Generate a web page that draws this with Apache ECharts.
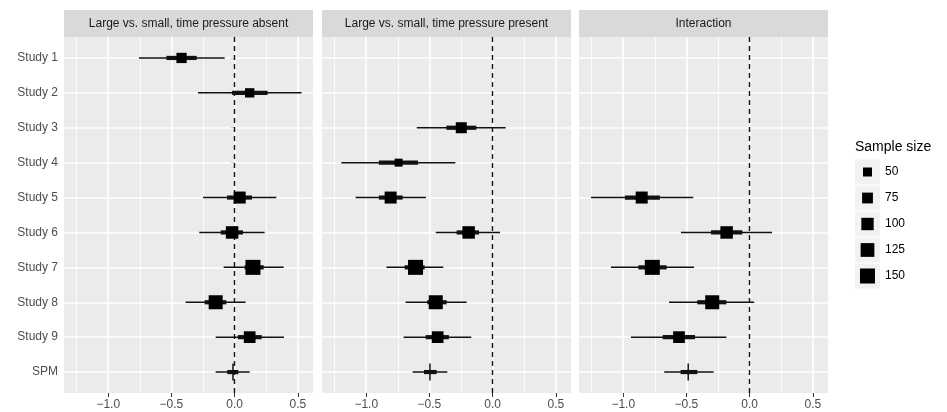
<!doctype html>
<html lang="en">
<head>
<meta charset="UTF-8">
<title>Forest plot</title>
<style>
  html, body { margin: 0; padding: 0; background: #fff; }
  #chart { width: 947px; height: 412px; }
</style>
</head>
<body>
<div id="chart"></div>
<script src="https://cdn.jsdelivr.net/npm/echarts@6/dist/echarts.min.js"></script>
<script>
// rows, top to bottom
var studies = ['Study 1', 'Study 2', 'Study 3', 'Study 4', 'Study 5', 'Study 6', 'Study 7', 'Study 8', 'Study 9', 'SPM'];
var sampleSize = [67, 54, 78, 38, 94, 102, 150, 130, 89, null];
var panelTitles = ['Large vs. small, time pressure absent', 'Large vs. small, time pressure present', 'Interaction'];

// estimate, outer interval (lo, hi), inner interval (lo, hi); null = not in panel
var estAbsent   = [-0.42, 0.119, null, null, 0.04, -0.02, 0.145, -0.15, 0.119, -0.013];
var outLoAbsent = [-0.757, -0.29, null, null, -0.25, -0.28, -0.087, -0.388, -0.15, -0.15];
var outHiAbsent = [-0.079, 0.53, null, null, 0.33, 0.237, 0.388, 0.087, 0.39, 0.119];
var inLoAbsent  = [-0.54, -0.02, null, null, -0.06, -0.11, 0.079, -0.237, 0.026, -0.058];
var inHiAbsent  = [-0.30, 0.26, null, null, 0.137, 0.066, 0.23, -0.066, 0.214, 0.029];

var estPresent   = [null, null, -0.248, -0.744, -0.807, -0.19, -0.61, -0.45, -0.435, -0.496];
var outLoPresent = [null, null, -0.60, -1.197, -1.084, -0.45, -0.84, -0.688, -0.704, -0.633];
var outHiPresent = [null, null, 0.103, -0.295, -0.527, 0.058, -0.39, -0.206, -0.169, -0.358];
var inLoPresent  = [null, null, -0.366, -0.90, -0.90, -0.285, -0.696, -0.517, -0.53, -0.543];
var inHiPresent  = [null, null, -0.129, -0.59, -0.712, -0.108, -0.538, -0.364, -0.346, -0.443];

var estInter   = [null, null, null, null, -0.854, -0.182, -0.77, -0.296, -0.559, -0.486];
var outLoInter = [null, null, null, null, -1.255, -0.543, -1.097, -0.638, -0.939, -0.676];
var outHiInter = [null, null, null, null, -0.446, 0.177, -0.44, 0.036, -0.184, -0.285];
var inLoInter  = [null, null, null, null, -0.987, -0.306, -0.88, -0.414, -0.688, -0.546];
var inHiInter  = [null, null, null, null, -0.71, -0.058, -0.657, -0.184, -0.432, -0.414];

var xTicks = [-1.0, -0.5, 0.0, 0.5];
var xMinor = [-1.25, -0.75, -0.25, 0.25];
var legendSizes = [50, 75, 100, 125, 150];

var panels = [
  [estAbsent, outLoAbsent, outHiAbsent, inLoAbsent, inHiAbsent],
  [estPresent, outLoPresent, outHiPresent, inLoPresent, inHiPresent],
  [estInter, outLoInter, outHiInter, inLoInter, inHiInter]
];

// square side in px from sample size (area scale)
function sqSide(n) { return Math.sqrt(9 + 1.44 * n); }

var FONT = '"Liberation Sans", Arial, sans-serif';
var gridLefts = [64, 322, 579];
var gridW = 249;
var gridTop = 37, gridBottom = 19;

function renderForest(params, api) {
  var y = api.value(0);
  var c = api.coord([api.value(1), y]);
  var ol = api.coord([api.value(2), y]);
  var oh = api.coord([api.value(3), y]);
  var il = api.coord([api.value(4), y]);
  var ih = api.coord([api.value(5), y]);
  var n = api.value(6);
  var kids = [
    { type: 'line', shape: { x1: ol[0], y1: ol[1], x2: oh[0], y2: oh[1] }, style: { stroke: '#111', lineWidth: 1.5 } },
    { type: 'line', shape: { x1: il[0], y1: il[1], x2: ih[0], y2: ih[1] }, style: { stroke: '#111', lineWidth: 4.2 } }
  ];
  if (!(n > 0)) {
    kids.push({ type: 'line', shape: { x1: c[0], y1: c[1] - 8.5, x2: c[0], y2: c[1] + 8.5 }, style: { stroke: '#111', lineWidth: 1.5 } });
  } else {
    var s = sqSide(n);
    kids.push({ type: 'rect', shape: { x: c[0] - s / 2, y: c[1] - s / 2, width: s, height: s }, style: { fill: '#000' } });
  }
  return { type: 'group', children: kids };
}

var grids = [], xAxes = [], yAxes = [], series = [], graphics = [];

panels.forEach(function (p, k) {
  grids.push({ left: gridLefts[k], width: gridW, top: gridTop, bottom: gridBottom, show: true, backgroundColor: '#EBEBEB', borderWidth: 0 });
  xAxes.push({
    type: 'value', gridIndex: k, min: -1.35, max: 0.62,
    axisLine: { show: false },
    axisTick: { show: true, length: 4, customValues: xTicks, lineStyle: { color: '#333', width: 1 } },
    axisLabel: { customValues: xTicks, margin: 6, color: '#4D4D4D', fontSize: 12, fontFamily: FONT,
      formatter: function (v) { return (v < 0 ? '\u2212' : '') + Math.abs(v).toFixed(1); } },
    splitLine: { show: false }
  });
  yAxes.push({
    type: 'value', gridIndex: k, min: 0.4, max: 10.6, inverse: true,
    axisLine: { show: false },
    axisTick: { show: k === 0, length: 4, customValues: [1, 2, 3, 4, 5, 6, 7, 8, 9, 10], lineStyle: { color: '#333', width: 1 } },
    axisLabel: { show: k === 0, customValues: [1, 2, 3, 4, 5, 6, 7, 8, 9, 10], margin: 6, color: '#4D4D4D', fontSize: 12,
      fontFamily: FONT,
      formatter: function (v) { return studies[Math.round(v) - 1]; } },
    splitLine: { show: false }
  });

  // background grid lines
  var gl = [];
  xMinor.forEach(function (v) { gl.push({ xAxis: v, lineStyle: { color: '#fff', width: 0.8, type: 'solid' } }); });
  xTicks.forEach(function (v) { gl.push({ xAxis: v, lineStyle: { color: '#fff', width: 1.6, type: 'solid' } }); });
  studies.forEach(function (s, i) { gl.push({ yAxis: i + 1, lineStyle: { color: '#fff', width: 1.6, type: 'solid' } }); });
  series.push({
    type: 'line', xAxisIndex: k, yAxisIndex: k, data: [], z: 1, silent: true,
    markLine: { z: 1, silent: true, symbol: ['none', 'none'], label: { show: false }, data: gl }
  });
  // reference line at zero
  series.push({
    type: 'line', xAxisIndex: k, yAxisIndex: k, data: [], z: 2, silent: true,
    markLine: { z: 2, silent: true, symbol: ['none', 'none'], label: { show: false },
      data: [{ xAxis: 0, lineStyle: { color: '#111', width: 1.4, type: [5, 4] } }] }
  });

  var rows = [];
  for (var i = 0; i < studies.length; i++) {
    if (p[0][i] == null) continue;
    rows.push([i + 1, p[0][i], p[1][i], p[2][i], p[3][i], p[4][i], sampleSize[i] == null ? 0 : sampleSize[i]]);
  }
  series.push({
    type: 'custom', xAxisIndex: k, yAxisIndex: k, z: 10, data: rows,
    renderItem: renderForest, encode: { x: [1, 2, 3, 4, 5], y: 0 }
  });

  // facet strip
  graphics.push({ type: 'rect', x: gridLefts[k], y: 10, shape: { width: gridW, height: 27 }, style: { fill: '#D9D9D9' }, silent: true });
  graphics.push({ type: 'text', x: gridLefts[k] + gridW / 2, y: 23.5, silent: true,
    style: { text: panelTitles[k], align: 'center', verticalAlign: 'middle', fill: '#1A1A1A', font: '12px ' + FONT } });
});

// size legend
graphics.push({ type: 'text', x: 855, y: 147, style: { text: 'Sample size', verticalAlign: 'middle', fill: '#000', font: '14px ' + FONT } });
legendSizes.forEach(function (n, i) {
  var yc = 172 + i * 26;
  var s = sqSide(n);
  graphics.push({ type: 'rect', x: 855, y: yc - 12.5, shape: { width: 25, height: 25 }, style: { fill: '#F2F2F2' } });
  graphics.push({ type: 'rect', x: 867.5 - s / 2, y: yc - s / 2, shape: { width: s, height: s }, style: { fill: '#000' } });
  graphics.push({ type: 'text', x: 885, y: yc, style: { text: String(n), verticalAlign: 'middle', fill: '#000', font: '12px ' + FONT } });
});

var chart = echarts.init(document.getElementById('chart'));
chart.setOption({
  animation: false,
  backgroundColor: '#fff',
  grid: grids,
  xAxis: xAxes,
  yAxis: yAxes,
  series: series,
  graphic: graphics
});
</script>
</body>
</html>
